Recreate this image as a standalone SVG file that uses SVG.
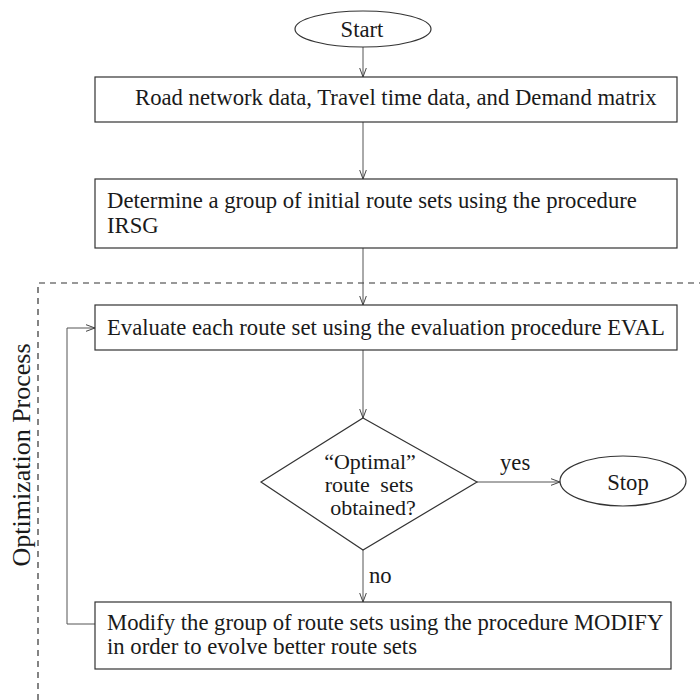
<svg xmlns="http://www.w3.org/2000/svg" width="700" height="700" viewBox="0 0 700 700">
  <style>
    .shape { fill: #ffffff; stroke: #333333; stroke-width: 1.2; }
    .conn { fill: none; stroke: #555555; stroke-width: 1; }
    .frame { fill: none; stroke: #333333; stroke-width: 1.2; stroke-dasharray: 6 5; }
    text { font-family: "Liberation Serif", "Times New Roman", serif; font-size: 22.7px; fill: #1a1a1a; }
    .small { font-size: 22px; }
  </style>
  <defs>
    <marker id="arrow" viewBox="0 0 10 8" refX="9.5" refY="4" markerWidth="10" markerHeight="8" markerUnits="userSpaceOnUse" orient="auto">
      <path d="M0,0.5 L9.5,4 L0,7.5" fill="none" stroke="#444444" stroke-width="1"/>
    </marker>
  </defs>

  <!-- optimization process frame -->
  <path class="frame" d="M38,700 L38,283 L700,283"/>
  <text transform="translate(30,455) rotate(-90)" text-anchor="middle" style="font-size:26px">Optimization Process</text>

  <!-- connectors -->
  <g id="connectors">
    <line class="conn" x1="363" y1="47" x2="363" y2="77" marker-end="url(#arrow)"/>
    <line class="conn" x1="363" y1="122" x2="363" y2="179" marker-end="url(#arrow)"/>
    <line class="conn" x1="363" y1="248" x2="363" y2="305" marker-end="url(#arrow)"/>
    <line class="conn" x1="363" y1="350" x2="363" y2="418" marker-end="url(#arrow)"/>
    <line class="conn" x1="477" y1="482" x2="560" y2="482" marker-end="url(#arrow)"/>
    <line class="conn" x1="363" y1="550" x2="363" y2="602" marker-end="url(#arrow)"/>
    <path class="conn" d="M95,624 L67,624 L67,328 L95,328" marker-end="url(#arrow)"/>
    <text x="500" y="470">yes</text>
    <text x="369" y="583">no</text>
  </g>

  <!-- nodes -->
  <g id="start">
    <ellipse class="shape" cx="363" cy="29" rx="68" ry="18"/>
    <text x="362" y="37" text-anchor="middle">Start</text>
  </g>

  <g id="input-data">
    <rect class="shape" x="95" y="77" width="582" height="45"/>
    <text x="135" y="105">Road network data, Travel time data, and Demand matrix</text>
  </g>

  <g id="initial-route-sets">
    <rect class="shape" x="95" y="179" width="582" height="69"/>
    <text x="107" y="208">Determine a group of initial route sets using the procedure</text>
    <text x="107" y="233">IRSG</text>
  </g>

  <g id="evaluate">
    <rect class="shape" x="95" y="305" width="582" height="45"/>
    <text x="107" y="335">Evaluate each route set using the evaluation procedure EVAL</text>
  </g>

  <g id="optimal-check">
    <polygon class="shape" points="363,418 477,482 363,550 261,482"/>
    <text class="small" x="370" y="469" text-anchor="middle">“Optimal”</text>
    <text class="small" x="369" y="492" text-anchor="middle" word-spacing="5">route sets</text>
    <text class="small" x="373" y="515" text-anchor="middle">obtained?</text>
  </g>

  <g id="stop">
    <ellipse class="shape" cx="623" cy="481" rx="63" ry="25"/>
    <text x="628" y="490" text-anchor="middle">Stop</text>
  </g>

  <g id="modify">
    <rect class="shape" x="95" y="602" width="576" height="67"/>
    <text x="107" y="630">Modify the group of route sets using the procedure MODIFY</text>
    <text x="107" y="654">in order to evolve better route sets</text>
  </g>
</svg>
